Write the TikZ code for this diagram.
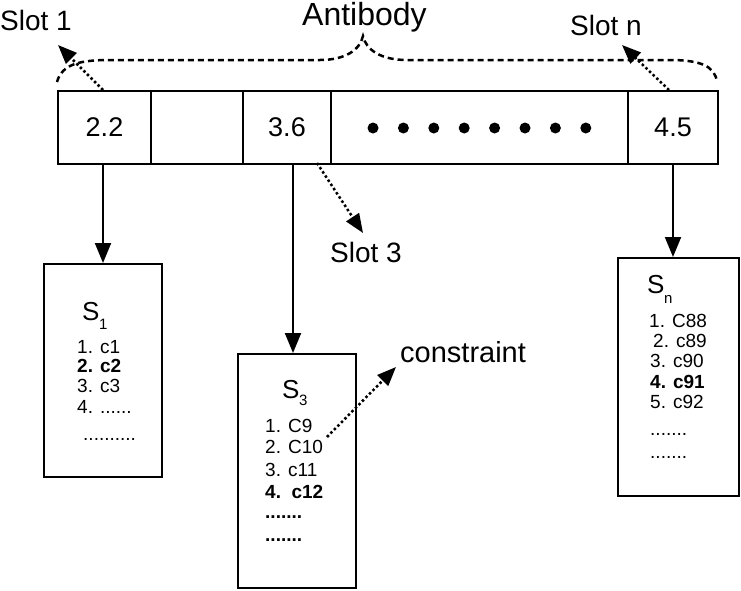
\documentclass[tikz,border=0pt]{standalone}
\usepackage{fontspec}
\setmainfont{Liberation Sans}
\usetikzlibrary{arrows.meta}
\newcommand\fsz[1]{\fontsize{#1}{#1}\selectfont}
\tikzset{
  cell/.style={draw, line width=2pt, minimum height=73pt, anchor=north west, inner sep=0pt, font=\fsz{27}},
  listbox/.style={draw, line width=2pt, anchor=north west, inner sep=0pt},
  item/.style={anchor=base west, inner sep=0pt, font=\fsz{19}},
  bitem/.style={anchor=base west, inner sep=0pt, font=\fsz{19}\bfseries},
  sname/.style={anchor=base west, inner sep=0pt, font=\fsz{26}},
  ssub/.style={anchor=base west, inner sep=0pt, font=\fsz{15}},
  lbl/.style={anchor=base west, inner sep=0pt, font=\fsz{28}},
  solidarrow/.style={line width=2pt, -{Triangle[length=20pt,width=16pt]}},
  dotarrow/.style={line width=2.5pt, dash pattern=on 2.5pt off 2.5pt, -{Triangle[length=19pt,width=15pt]}},
  bracestyle/.style={line width=2.5pt, dash pattern=on 6pt off 4pt},
}
\begin{document}
\begin{tikzpicture}[x=1pt,y=-1pt]
\useasboundingbox (0,0) rectangle (741,590);
% antibody bar
\node[cell, minimum width=93pt] (c1) at (57,90) {2.2};
\node[cell, minimum width=92pt] (c2) at (150,90) {};
\node[cell, minimum width=88pt] (c3) at (242,90) {3.6};
\node[cell, minimum width=297pt] (c4) at (330,90) {};
\node[cell, minimum width=90pt] (c5) at (627,90) {4.5};
\foreach \i in {0,...,7} \fill (373+\i*30.4,128) circle (5.5pt);
% labels
\node[lbl, font=\fsz{32}] (ab) at (302,25) {Antibody};
\node[lbl] (sl1) at (0,30) {Slot 1};
\node[lbl] (sln) at (570,35) {Slot n};
\node[lbl] (sl3) at (330,262) {Slot 3};
\node[lbl, font=\fsz{29}] (con) at (400,362) {constraint};
% brace
\draw[bracestyle] (57,82) .. controls (62,64) and (80,60) .. (110,60) -- (320,60)
  .. controls (345,60) and (360,50) .. (363,36)
  .. controls (366,50) and (381,60) .. (407,60) -- (670,60)
  .. controls (700,60) and (715,66) .. (717,82);
% list boxes
\node[listbox, minimum width=118pt, minimum height=213pt] (b1) at (43,263) {};
\node[listbox, minimum width=118pt, minimum height=234pt] (b3) at (237,353) {};
\node[listbox, minimum width=121pt, minimum height=238pt] (bn) at (617,257) {};
% S1
\node[sname] (s1) at (82,320) {S};
\node[ssub] (s1s) at (99,329) {1};
\node[item] (s1a) at (77,353) {1. c1};
\node[bitem] (s1b) at (77,372) {2. c2};
\node[item] (s1c) at (77,392) {3. c3};
\node[item] (s1d) at (77,413) {4. ......};
\node[item] (s1e) at (83,440) {..........};
% S3
\node[sname] (s3) at (282,398) {S};
\node[ssub] (s3s) at (299,405) {3};
\node[item] (s3a) at (265,432) {1. C9};
\node[item] (s3b) at (265,453) {2. C10};
\node[item] (s3c) at (265,476) {3. c11};
\node[bitem] (s3d) at (265,498) {4.\ \ c12};
\node[bitem] (s3e) at (265,518) {.......};
\node[bitem] (s3f) at (265,541) {.......};
% Sn
\node[sname] (sn) at (647,293) {S};
\node[ssub] (sns) at (664,303) {n};
\node[item] (sna) at (649,327) {1. C88};
\node[item] (snb) at (653,347) {2. c89};
\node[item] (snc) at (650,367) {3. c90};
\node[bitem] (snd) at (650,388) {4. c91};
\node[item] (sne) at (650,408) {5. c92};
\node[item] (snf) at (650,435) {.......};
\node[item] (sng) at (650,458) {.......};
% connectors
\coordinate (p1) at (103,163); \coordinate (q1) at (103,263);
\coordinate (p3) at (293,163); \coordinate (q3) at (293,353);
\coordinate (pn) at (673,163); \coordinate (qn) at (673,257);
\draw[solidarrow] (p1) -- (q1);
\draw[solidarrow] (p3) -- (q3);
\draw[solidarrow] (pn) -- (qn);
\coordinate (d1a) at (103,90); \coordinate (d1b) at (58,45);
\coordinate (dna) at (669,90); \coordinate (dnb) at (622,45);
\coordinate (d3a) at (317,163); \coordinate (d3b) at (363,233);
\coordinate (dca) at (327,437); \coordinate (dcb) at (396,367);
\draw[dotarrow] (d1a) -- (d1b);
\draw[dotarrow] (dna) -- (dnb);
\draw[dotarrow] (d3a) -- (d3b);
\draw[dotarrow] (dca) -- (dcb);
\end{tikzpicture}
\end{document}
